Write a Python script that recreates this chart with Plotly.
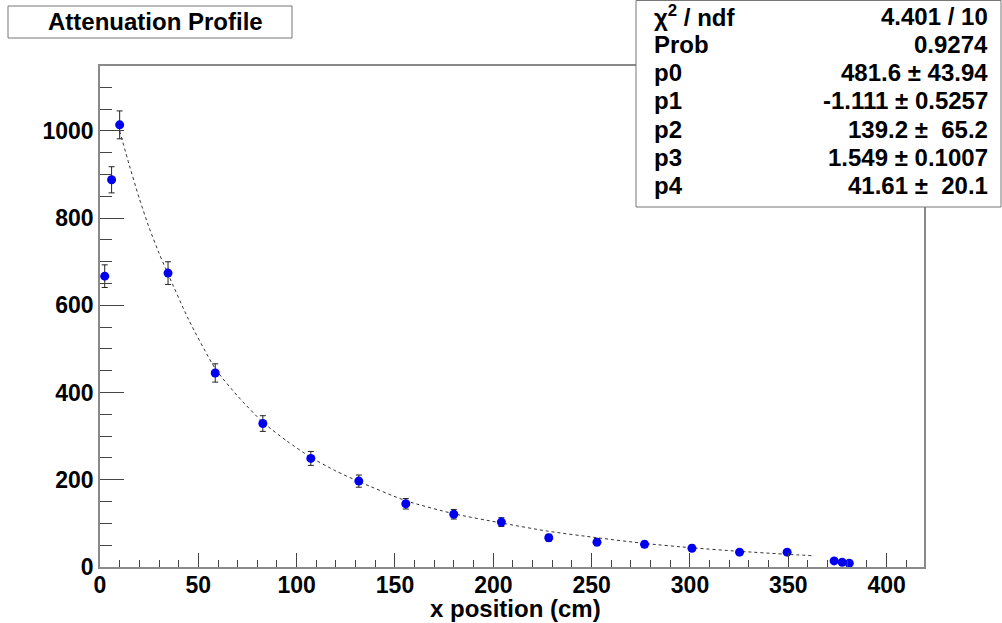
import plotly.graph_objects as go

# ---- data ----
x_pos = [2.4, 5.9, 10.0, 34.6, 58.6, 82.8, 107.2, 131.6, 155.5, 179.9, 204.1,
         228.2, 252.7, 276.9, 301.0, 325.2, 349.4, 373.3, 377.4, 381.0]
counts = [667, 888, 1014, 674, 445, 329, 249, 197, 145, 121, 103,
          67, 57, 52, 43, 34, 34, 14, 11, 8.5]
errors = [26, 30, 32, 26, 21, 18, 16, 14, 12, 11, 10,
          8, 8, 7, 7, 6, 6, 4, 3, 3]

fit_x = [10, 15, 20, 25, 30, 35, 45, 58.6, 70, 82.8, 95, 107, 120, 131.6,
         155.5, 180, 204, 228, 253, 277, 301, 325, 350, 362]
fit_y = [1000, 920, 845, 778, 720, 668, 568, 455, 392, 332, 289, 252, 220, 196,
         152, 122, 101, 82, 67, 54, 44, 36, 29, 26]

title_text = "Attenuation Profile"
x_title = "x position (cm)"
stat_labels = ["χ<sup>2</sup> / ndf", "Prob", "p0", "p1", "p2", "p3", "p4"]
stat_values = ["4.401 / 10", "0.9274", "481.6 ± 43.94", "-1.111 ± 0.5257",
               "139.2 ±\u00a0\u00a065.2", "1.549 ± 0.1007", "41.61 ±\u00a0\u00a020.1"]

# ---- layout geometry (pixels) ----
W, H = 1002, 623
ML, MR, MT, MB = 100, 78, 66, 56
PW, PH = W - ML - MR, H - MT - MB


def px(x):
    return (x - ML) / PW


def py(y):
    return (H - MB - y) / PH


FONT = "Liberation Sans, Arial, Helvetica, sans-serif"

fig = go.Figure()
fig.add_trace(go.Scatter(
    x=fit_x, y=fit_y, mode="lines",
    line=dict(color="#333333", width=1, dash="dot", shape="spline", smoothing=0.6),
    hoverinfo="skip", showlegend=False))
fig.add_trace(go.Scatter(
    x=x_pos, y=counts, mode="markers",
    marker=dict(color="#0000ee", size=9),
    error_y=dict(type="data", array=errors, color="#222222", thickness=1, width=3),
    showlegend=False))

axis_common = dict(
    showline=True, linecolor="#8a8a8a", linewidth=1.5, mirror=True,
    ticks="inside", tickcolor="#444444", tickwidth=1,
    showgrid=False, zeroline=False,
    tickfont=dict(family=FONT, size=23, color="black", weight="bold"),
)

fig.update_layout(
    width=W, height=H,
    margin=dict(l=ML, r=MR, t=MT, b=MB),
    paper_bgcolor="white", plot_bgcolor="white",
    xaxis=dict(range=[0, 419], dtick=50, tick0=0, ticklen=14, ticklabelstandoff=-3,
               minor=dict(dtick=10, ticklen=7, ticks="inside", tickcolor="#444444"),
               **axis_common),
    yaxis=dict(range=[0, 1149], dtick=200, tick0=0, ticklen=24,
               minor=dict(dtick=50, ticklen=12, ticks="inside", tickcolor="#444444"),
               **axis_common),
    shapes=[
        dict(type="rect", xref="paper", yref="paper",
             x0=px(8), x1=px(292), y0=py(6), y1=py(38),
             line=dict(color="#777777", width=1), fillcolor="white", layer="above"),
        dict(type="rect", xref="paper", yref="paper",
             x0=px(636), x1=px(1001), y0=py(0.5), y1=py(207),
             line=dict(color="#777777", width=1), fillcolor="white", layer="above"),
    ],
)

annotations = [
    dict(text=title_text, xref="paper", yref="paper", x=px(155), y=py(22),
         xanchor="center", yanchor="middle", showarrow=False,
         font=dict(family=FONT, size=24, color="black", weight="bold")),
    dict(text=x_title, xref="paper", yref="paper", x=px(515), y=py(608),
         xanchor="center", yanchor="middle", showarrow=False,
         font=dict(family=FONT, size=24, color="black", weight="bold")),
]
for i, (lab, val) in enumerate(zip(stat_labels, stat_values)):
    yc = 16 + i * 28.3
    annotations.append(dict(text=lab, xref="paper", yref="paper", x=px(652), y=py(yc),
                            xanchor="left", yanchor="middle", showarrow=False,
                            font=dict(family=FONT, size=24, color="black", weight="bold")))
    annotations.append(dict(text=val, xref="paper", yref="paper", x=px(990), y=py(yc),
                            xanchor="right", yanchor="middle", showarrow=False,
                            font=dict(family=FONT, size=24, color="black", weight="bold")))
fig.update_layout(annotations=annotations)

fig.write_html("out.html")
